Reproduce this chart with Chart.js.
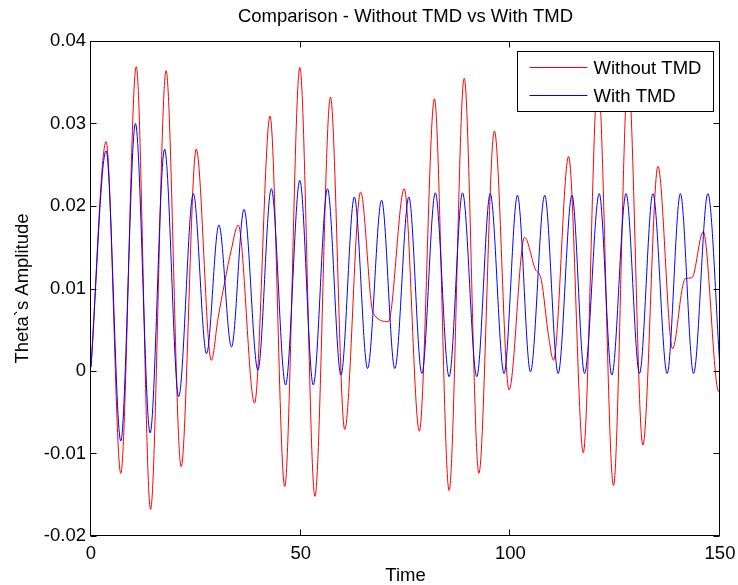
<!DOCTYPE html>
<html><head><meta charset="utf-8">
<style>html,body{margin:0;padding:0;background:#fff;} #wrap{width:738px;height:585px;}</style>
<script src="https://cdn.jsdelivr.net/npm/chart.js@4.4.1/dist/chart.umd.min.js"></script>
</head><body><div id="wrap"><canvas id="c" width="738" height="585"></canvas></div>
<script>
const seriesNames = ['Without TMD', 'With TMD'];
const titleText = 'Comparison - Without TMD vs With TMD';
const xTitleText = 'Time';
const yTitleText = 'Theta`s Amplitude';

const redTime = [0, 3.6, 7.1, 10.8, 14.2, 17.9, 21.5, 25.1, 28.7, 30.3, 31.9, 33.5, 35.1, 39.0, 42.7, 46.2, 49.8, 53.4, 57.1, 60.5, 64.3, 67.3, 70.9, 74.7, 78.3, 81.9, 85.4, 89.0, 92.5, 96.2, 99.7, 103.4, 105.9, 107.4, 109.1, 110.3, 113.9, 117.4, 120.9, 124.6, 128.1, 131.6, 135.2, 138.7, 141.0, 141.7, 143.3, 146.0, 149.7, 150];
const redTheta = [0.0005, 0.0278, -0.0124, 0.0369, -0.0168, 0.0364, -0.0116, 0.0269, 0.0013, 0.0064, 0.0108, 0.0148, 0.0177, -0.0039, 0.0309, -0.0140, 0.0368, -0.0152, 0.0332, -0.0071, 0.0217, 0.0070, 0.0060, 0.0221, -0.0073, 0.0330, -0.0145, 0.0355, -0.0124, 0.0291, -0.0023, 0.0162, 0.0124, 0.0110, 0.0043, 0.0013, 0.0260, -0.0099, 0.0355, -0.0139, 0.0360, -0.0090, 0.0248, 0.0027, 0.0100, 0.0112, 0.0113, 0.0169, -0.0025, -0.0022];

const blueTime = [0, 3.6, 7.1, 10.6, 14.1, 17.55, 20.9, 24.4, 27.55, 30.5, 33.5, 36.5, 39.8, 43.0, 46.4, 49.8, 53.0, 56.4, 59.6, 62.8, 65.95, 69.3, 72.45, 75.8, 78.9, 82.1, 85.4, 88.6, 92.0, 95.2, 98.5, 101.7, 104.8, 108.2, 111.4, 114.7, 117.7, 121.2, 124.2, 127.6, 130.8, 134.0, 137.4, 140.55, 143.7, 147.1, 150];
const blueTheta = [0.0005, 0.0267, -0.0085, 0.0300, -0.0075, 0.0269, -0.0031, 0.0215, 0.0021, 0.0177, 0.0029, 0.0196, 0.0001, 0.0221, -0.0017, 0.0231, -0.0017, 0.0221, -0.0005, 0.0211, 0.0003, 0.0207, 0.0003, 0.0211, -0.0003, 0.0216, -0.0007, 0.0216, -0.0007, 0.0215, -0.0003, 0.0213, -0.0001, 0.0213, -0.0003, 0.0213, -0.0003, 0.0215, -0.0005, 0.0215, -0.0003, 0.0215, -0.0003, 0.0215, -0.0003, 0.0215, 0.0003];

const xTickValues = [0, 50, 100, 150];
const xTickLabels = ['0', '50', '100', '150'];
const yTickValues = [-0.02, -0.01, 0, 0.01, 0.02, 0.03, 0.04];
const yTickLabels = ['-0.02', '-0.01', '0', '0.01', '0.02', '0.03', '0.04'];

const FONT_FAMILY = '"Liberation Sans", Arial, Helvetica, sans-serif';
const FONT_SIZE = 18.5;
Chart.defaults.font.family = FONT_FAMILY;
Chart.defaults.font.size = FONT_SIZE;
Chart.defaults.color = '#000';

function toPoints(xs, ys) { return xs.map((x, i) => ({x: x, y: ys[i]})); }
function labelFor(values, labels, v) {
  const i = values.findIndex(t => Math.abs(t - v) < 1e-9);
  return i >= 0 ? labels[i] : '';
}

const framePlugin = {
  id: 'frame',
  afterDatasetsDraw(chart) {
    const {ctx, chartArea: a, scales} = chart;
    const L = Math.round(a.left) - 0.5, R = Math.round(a.right) - 0.5;
    const T = Math.round(a.top) + 0.5, B = Math.round(a.bottom) - 0.5;
    ctx.save();
    ctx.strokeStyle = '#000';
    ctx.lineWidth = 1;
    ctx.strokeRect(L, T, R - L, B - T);
    const tl = 6;
    ctx.beginPath();
    xTickValues.forEach(v => {
      const px = Math.round(scales.x.getPixelForValue(v)) - 0.5;
      ctx.moveTo(px, B); ctx.lineTo(px, B - tl);
      ctx.moveTo(px, T); ctx.lineTo(px, T + tl);
    });
    yTickValues.forEach(v => {
      const py = Math.round(scales.y.getPixelForValue(v)) + 0.5;
      ctx.moveTo(L, py); ctx.lineTo(L + tl, py);
      ctx.moveTo(R, py); ctx.lineTo(R - tl, py);
    });
    ctx.stroke();
    ctx.fillStyle = '#000';
    ctx.font = FONT_SIZE + 'px ' + FONT_FAMILY;
    ctx.textAlign = 'center';
    ctx.textBaseline = 'middle';
    ctx.fillText(titleText, (a.left + a.right) / 2, 17);
    ctx.restore();
  }
};

const legendPlugin = {
  id: 'boxLegend',
  afterDraw(chart) {
    const {ctx, chartArea: a} = chart;
    const w = 196, h = 60;
    const x0 = Math.round(a.right - 203) + 0.5, y0 = Math.round(a.top + 10) + 0.5;
    ctx.save();
    ctx.fillStyle = '#fff';
    ctx.fillRect(x0, y0, w, h);
    ctx.strokeStyle = '#000';
    ctx.lineWidth = 1;
    ctx.strokeRect(x0, y0, w, h);
    ctx.font = FONT_SIZE + 'px ' + FONT_FAMILY;
    ctx.textBaseline = 'middle';
    ctx.textAlign = 'left';
    chart.data.datasets.forEach((ds, i) => {
      const yy = Math.round(y0 + 15 + i * 28) + 0.5;
      ctx.strokeStyle = ds.borderColor;
      ctx.beginPath();
      ctx.moveTo(x0 + 12, yy); ctx.lineTo(x0 + 70, yy);
      ctx.stroke();
      ctx.fillStyle = '#000';
      ctx.fillText(ds.label, x0 + 76, yy + 1);
    });
    ctx.restore();
  }
};

new Chart(document.getElementById('c'), {
  type: 'line',
  data: {
    datasets: [
      { label: seriesNames[0], data: toPoints(redTime, redTheta), borderColor: '#ff0000', borderWidth: 1, pointRadius: 0, cubicInterpolationMode: 'monotone', fill: false, order: 1 },
      { label: seriesNames[1], data: toPoints(blueTime, blueTheta), borderColor: '#0000ff', borderWidth: 1, pointRadius: 0, cubicInterpolationMode: 'monotone', fill: false, order: 0 }
    ]
  },
  options: {
    responsive: false,
    animation: false,
    devicePixelRatio: 1,
    layout: { padding: { left: 0, right: 18, top: 41, bottom: 0 } },
    plugins: {
      legend: { display: false },
      tooltip: { enabled: false },
      title: { display: false }
    },
    scales: {
      x: {
        type: 'linear', min: 0, max: 150,
        afterBuildTicks(s) { s.ticks = xTickValues.map(v => ({value: v})); },
        afterFit(s) { s.height = 49; s.paddingLeft = 0; s.paddingRight = 0; },
        grid: { display: false, drawTicks: false },
        border: { display: false },
        ticks: { padding: 7, maxRotation: 0, color: '#000', callback: v => labelFor(xTickValues, xTickLabels, v) },
        title: { display: true, text: xTitleText, color: '#000', font: { size: FONT_SIZE, lineHeight: 1.0 }, padding: { top: 0, bottom: 0 } }
      },
      y: {
        type: 'linear', min: -0.02, max: 0.04,
        afterBuildTicks(s) { s.ticks = yTickValues.map(v => ({value: v})); },
        afterFit(s) { s.width = 91; s.paddingTop = 0; s.paddingBottom = 0; },
        grid: { display: false, drawTicks: false },
        border: { display: false },
        ticks: { padding: 5, color: '#000', callback: v => labelFor(yTickValues, yTickLabels, v) },
        title: { display: true, text: yTitleText, color: '#000', font: { size: FONT_SIZE }, padding: { top: 12, bottom: 0 } }
      }
    }
  },
  plugins: [framePlugin, legendPlugin]
});
</script>
</body></html>
